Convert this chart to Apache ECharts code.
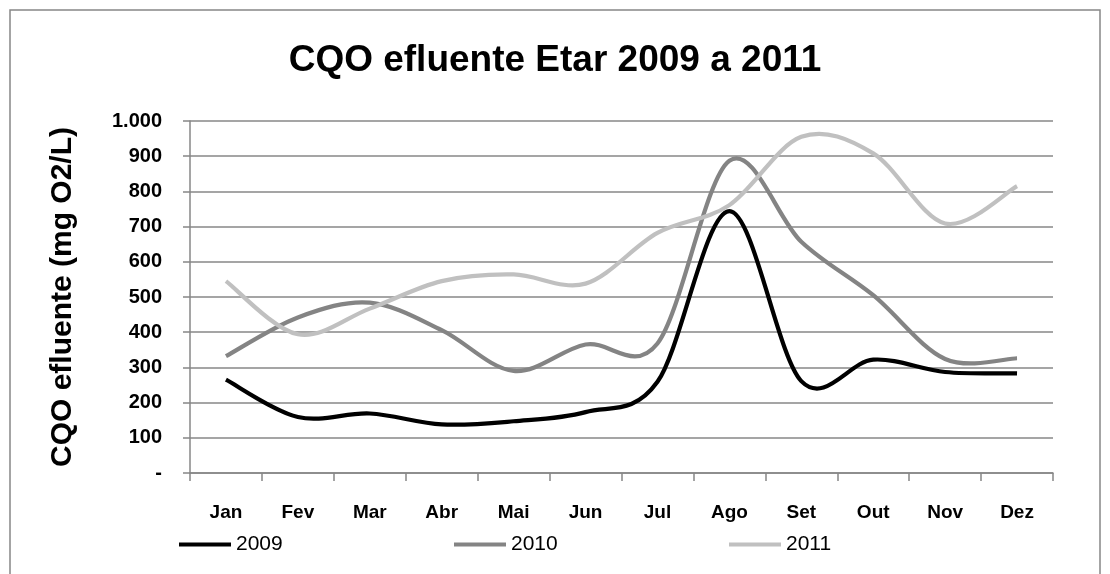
<!DOCTYPE html>
<html>
<head>
<meta charset="utf-8">
<title>CQO efluente Etar 2009 a 2011</title>
<script src="https://cdn.jsdelivr.net/npm/echarts@6/dist/echarts.min.js"></script>
<style>
  html, body { margin: 0; padding: 0; background: #ffffff; }
  #chart { width: 1110px; height: 574px; }
</style>
</head>
<body>
<div id="chart"></div>
<script>
// Monthly effluent COD (mg O2/L) at the treatment plant
const months = ['Jan', 'Fev', 'Mar', 'Abr', 'Mai', 'Jun', 'Jul', 'Ago', 'Set', 'Out', 'Nov', 'Dez'];
const cqo2009 = [265, 159, 169, 138, 147, 173, 259, 744, 261, 322, 287, 283];
const cqo2010 = [332, 442, 484, 406, 290, 365, 368, 887, 657, 505, 324, 326];
const cqo2011 = [545, 394, 467, 545, 564, 538, 682, 761, 955, 908, 709, 815];

const FONT = '"Liberation Sans", Arial, sans-serif';
const GRID_GRAY = '#878787';

const chart = echarts.init(document.getElementById('chart'), null, { renderer: 'canvas' });

// Smoothed line (Catmull-Rom style cubic Bezier through every monthly point),
// with points placed by the chart's own axes via api.coord.
function smoothLineSeries(name, values, color) {
  return {
    name: name,
    type: 'custom',
    data: values.map(function (v, i) { return [i, v]; }),
    encode: { x: 0, y: 1 },
    itemStyle: { color: color },
    silent: true,
    renderItem: function (params, api) {
      if (params.dataIndex !== 0) return null;
      const pts = values.map(function (v, i) { return api.coord([i, v]); });
      const n = pts.length;
      let d = 'M' + pts[0][0] + ' ' + pts[0][1];
      for (let i = 0; i < n - 1; i++) {
        const p0 = pts[Math.max(i - 1, 0)];
        const p1 = pts[i];
        const p2 = pts[i + 1];
        const p3 = pts[Math.min(i + 2, n - 1)];
        const c1x = p1[0] + (p2[0] - p0[0]) / 6;
        const c1y = p1[1] + (p2[1] - p0[1]) / 6;
        const c2x = p2[0] - (p3[0] - p1[0]) / 6;
        const c2y = p2[1] - (p3[1] - p1[1]) / 6;
        d += ' C' + c1x + ' ' + c1y + ' ' + c2x + ' ' + c2y + ' ' + p2[0] + ' ' + p2[1];
      }
      return {
        type: 'path',
        shape: { pathData: d },
        style: { fill: 'none', stroke: color, lineWidth: 4.2, lineJoin: 'round', lineCap: 'butt' }
      };
    }
  };
}

function legendAt(name, left) {
  return {
    data: [name],
    left: left,
    top: 534,
    icon: 'rect',
    itemWidth: 52,
    itemHeight: 4,
    itemGap: 0,
    padding: 0,
    selectedMode: false,
    textStyle: { fontFamily: FONT, fontSize: 21, color: '#000000' }
  };
}

chart.setOption({
  animation: false,
  backgroundColor: '#ffffff',
  title: {
    text: 'CQO efluente Etar 2009 a 2011',
    left: 'center',
    top: 42,
    padding: 0,
    textStyle: { fontFamily: FONT, fontSize: 37, fontWeight: 'bold', color: '#000000' }
  },
  graphic: [{
    type: 'rect',
    shape: { x: 10, y: 10, width: 1090, height: 580 },
    style: { fill: 'none', stroke: GRID_GRAY, lineWidth: 1.5 },
    silent: true
  }],
  legend: [
    legendAt('2009', 179),
    legendAt('2010', 454),
    legendAt('2011', 729)
  ],
  grid: { left: 190, right: 57, top: 121, bottom: 101, containLabel: false },
  xAxis: {
    type: 'category',
    data: months,
    boundaryGap: true,
    axisLine: { show: true, lineStyle: { color: GRID_GRAY, width: 1.5 } },
    axisTick: { show: true, length: 8, lineStyle: { color: GRID_GRAY, width: 1.5 } },
    axisLabel: { margin: 30, fontFamily: FONT, fontSize: 19, fontWeight: 'bold', color: '#000000' },
    splitLine: { show: false }
  },
  yAxis: {
    type: 'value',
    min: 0,
    max: 1000,
    interval: 100,
    name: 'CQO efluente (mg O2/L)',
    nameLocation: 'middle',
    nameRotate: 90,
    nameGap: 112,
    nameTextStyle: { fontFamily: FONT, fontSize: 30, fontWeight: 'bold', color: '#000000' },
    axisLine: { show: true, lineStyle: { color: GRID_GRAY, width: 1.5 } },
    axisTick: { show: true, inside: false, length: 7, lineStyle: { color: GRID_GRAY, width: 1.5 } },
    axisLabel: {
      margin: 28,
      fontFamily: FONT,
      fontSize: 20,
      fontWeight: 'bold',
      color: '#000000',
      formatter: function (v) {
        if (v === 0) return '-';
        return v >= 1000 ? (Math.floor(v / 1000) + '.' + String(v % 1000).padStart(3, '0')) : String(v);
      }
    },
    splitLine: { show: true, lineStyle: { color: GRID_GRAY, width: 1.5 } }
  },
  series: [
    smoothLineSeries('2009', cqo2009, '#000000'),
    smoothLineSeries('2010', cqo2010, '#848484'),
    smoothLineSeries('2011', cqo2011, '#c0c0c0')
  ]
});
</script>
</body>
</html>
